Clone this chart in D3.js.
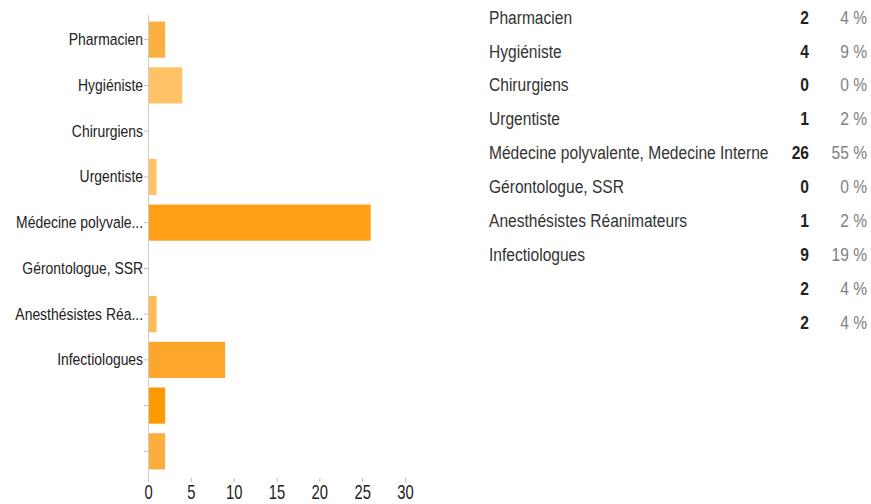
<!DOCTYPE html>
<html>
<head>
<meta charset="utf-8">
<script src="https://cdn.jsdelivr.net/npm/d3@7"></script>
<style>
  body { margin: 0; background: #fff; }
  svg text { font-family: "Liberation Sans", Arial, sans-serif; }
</style>
</head>
<body>
<div id="chart"></div>
<script>
// data
const shortLabels = ["Pharmacien", "Hygiéniste", "Chirurgiens", "Urgentiste", "Médecine polyvale...",
  "Gérontologue, SSR", "Anesthésistes Réa...", "Infectiologues", "", ""]
const fullLabels = ["Pharmacien", "Hygiéniste", "Chirurgiens", "Urgentiste", "Médecine polyvalente, Medecine Interne",
  "Gérontologue, SSR", "Anesthésistes Réanimateurs", "Infectiologues", "", ""]
const counts = [2, 4, 0, 1, 26, 0, 1, 9, 2, 2]
const percents = ["4 %", "9 %", "0 %", "2 %", "55 %", "0 %", "2 %", "19 %", "4 %", "4 %"]
const barColors = ["#fbb040", "#ffc266", "#ffb84d", "#ffc266", "#ff9f16", "#ffb040", "#ffbb55", "#fca62c", "#ff9900", "#fdad3b"]
const xTicks = [0, 5, 10, 15, 20, 25, 30]

const W = 871, H = 504
const squeeze = 0.82 // the original font is a condensed one

const svg = d3.select("#chart").append("svg")
    .attr("width", W)
    .attr("height", H)

const ids = d3.range(counts.length)

const x = d3.scaleLinear()
    .domain([0, 30])
    .range([148, 405])

const y = d3.scaleBand()
    .domain(ids)
    .range([17, 474])
    .paddingInner(0.21)
    .paddingOuter(0.1)

// bars
svg.append("g")
    .selectAll("rect")
    .data(ids)
    .enter()
    .append("rect")
        .attr("x", x(0) + 1)
        .attr("y", i => y(i))
        .attr("width", i => Math.max(0, x(counts[i]) - x(0) - 1))
        .attr("height", y.bandwidth())
        .attr("fill", i => barColors[i])

// y axis
const yAxis = svg.append("g")
    .attr("transform", `translate(${x(0)},0)`)
    .call(d3.axisLeft(y).tickSize(4).tickPadding(2).tickFormat(i => shortLabels[i]))
yAxis.select(".domain").attr("stroke", "#ccc").attr("d", `M0.5,15V478`)
yAxis.selectAll(".tick line").attr("stroke", "#bbb")
yAxis.selectAll(".tick text")
    .attr("font-size", 17)
    .attr("fill", "#222")
    .attr("transform", `scale(${squeeze},1)`)

// x axis
const xAxis = svg.append("g")
    .attr("transform", "translate(0,478)")
    .call(d3.axisBottom(x).tickValues(xTicks).tickSize(4).tickPadding(3))
xAxis.select(".domain").remove()
xAxis.selectAll(".tick line").attr("stroke", "#bbb")
xAxis.selectAll(".tick text")
    .attr("font-size", 20)
    .attr("fill", "#222")
    .attr("transform", "scale(0.74,1)")

// table on the right
const rowY = d3.scaleLinear()
    .domain([0, counts.length - 1])
    .range([17, 322])

const rows = svg.append("g")
    .selectAll("g")
    .data(ids)
    .enter()
    .append("g")
        .attr("transform", i => `translate(0,${rowY(i)})`)

const cell = (sel, xPos) => sel.append("text")
    .attr("transform", `translate(${xPos},0) scale(${squeeze},1)`)
    .attr("dy", "0.35em")
    .attr("font-size", 19)

cell(rows, 489)
    .attr("fill", "#333")
    .text(i => fullLabels[i])

cell(rows, 809)
    .attr("text-anchor", "end")
    .attr("font-weight", "bold")
    .attr("fill", "#222")
    .text(i => counts[i])

cell(rows, 867)
    .attr("text-anchor", "end")
    .attr("fill", "#808080")
    .text(i => percents[i])
</script>
</body>
</html>
